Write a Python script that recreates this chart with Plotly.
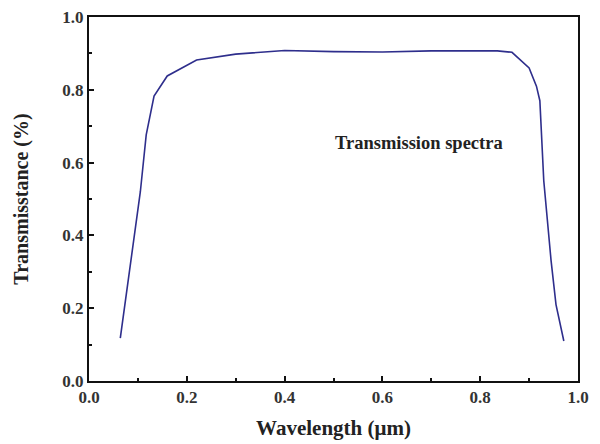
import plotly.graph_objects as go

wavelength = [0.064, 0.085, 0.105, 0.117, 0.133, 0.16, 0.22, 0.3, 0.4, 0.5, 0.6, 0.7, 0.8, 0.835, 0.865, 0.9, 0.915, 0.922, 0.93, 0.945, 0.955, 0.971]
transmittance = [0.118, 0.32, 0.52, 0.676, 0.783, 0.838, 0.882, 0.898, 0.908, 0.905, 0.904, 0.907, 0.908, 0.907, 0.903, 0.86, 0.81, 0.77, 0.55, 0.33, 0.21, 0.11]

xticks = [0.0, 0.2, 0.4, 0.6, 0.8, 1.0]
yticks = [0.0, 0.2, 0.4, 0.6, 0.8, 1.0]

font_family = "Liberation Serif"

fig = go.Figure()
fig.add_trace(go.Scatter(x=wavelength, y=transmittance, mode="lines",
                         line=dict(color="#2E2E8C", width=1.6), showlegend=False))

axis_common = dict(showline=True, linecolor="#111111", linewidth=2, mirror=True,
                   showgrid=False, zeroline=False, ticks="inside", ticklen=5,
                   tickwidth=1.5, tickcolor="#111111", ticklabeloverflow="allow",
                   tickfont=dict(family=font_family, size=17, color="#333333"),
                   minor=dict(ticks="inside", ticklen=3, tickwidth=1.5, dtick=0.1, tickcolor="#111111"))

fig.update_xaxes(range=[0, 1], tickvals=xticks, ticktext=[f"<b>{v:.1f}</b>" for v in xticks],
                 title=dict(text="<b>Wavelength (μm)</b>", font=dict(family=font_family, size=21, color="#222222"), standoff=14),
                 **axis_common)
fig.update_yaxes(range=[0, 1], tickvals=yticks, ticktext=[f"<b>{v:.1f}</b>" for v in yticks],
                 title=dict(text="<b>Transmisstance (%)</b>", font=dict(family=font_family, size=20, color="#222222"), standoff=28),
                 **axis_common)

fig.add_annotation(x=0.674, y=0.654, xref="x", yref="y", text="<b>Transmission spectra</b>",
                   showarrow=False, font=dict(family=font_family, size=18.5, color="#222222"))

fig.update_layout(width=600, height=444, margin=dict(l=81, r=30, t=9, b=71, autoexpand=False),
                  plot_bgcolor="white", paper_bgcolor="white")

fig.write_html("out.html")
